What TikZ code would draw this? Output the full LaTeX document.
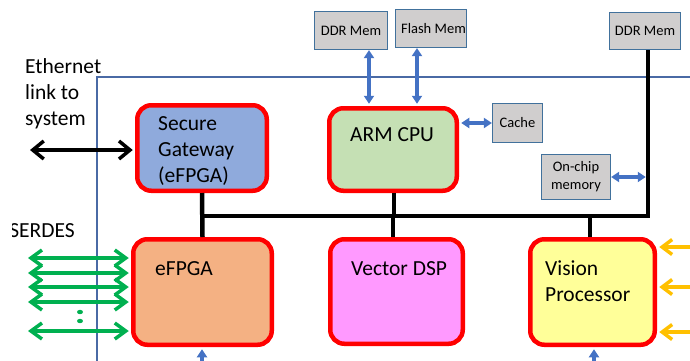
\documentclass[tikz,border=0pt]{standalone}
\usepackage{fontspec}
\setmainfont{Carlito}
\usetikzlibrary{arrows.meta,calc}
\definecolor{boxred}{HTML}{FF0000}
\definecolor{sgfill}{HTML}{8FAADC}
\definecolor{armfill}{HTML}{C5E0B4}
\definecolor{effill}{HTML}{F4B183}
\definecolor{dspfill}{HTML}{FF99FF}
\definecolor{visfill}{HTML}{FFFF99}
\definecolor{memgray}{HTML}{D0CECE}
\definecolor{memborder}{HTML}{41719C}
\definecolor{chipline}{HTML}{4A6AA5}
\definecolor{arrblue}{HTML}{4472C4}
\definecolor{arrgreen}{HTML}{00B050}
\definecolor{arrorange}{HTML}{FFC000}
\begin{document}
\begin{tikzpicture}[x=1pt,y=-1pt,
  redbox/.style={draw=boxred, line width=4.5pt, rounded corners=14pt, inner sep=0pt},
  membox/.style={draw=memborder, fill=memgray, line width=1.2pt, inner sep=0pt,
    font=\fontsize{14.5}{18}\selectfont, align=center},
  bigtxt/.style={font=\fontsize{21.5}{26}\selectfont, inner sep=0pt, align=left, anchor=base west},
  bus/.style={line width=4.5pt, black, line join=miter},
  barrow/.style={line width=3.3pt, draw=arrblue,
    {Triangle[length=8pt,width=10pt]}-{Triangle[length=8pt,width=10pt]}},
  uparrow/.style={line width=3.3pt, draw=arrblue, -{Triangle[length=8pt,width=10pt]}},
  karrow/.style={line width=3.5pt, draw=black,
    {Straight Barb[length=11pt,width=18pt]}-{Straight Barb[length=11pt,width=18pt]}},
  garrow/.style={line width=3.5pt, draw=arrgreen,
    {Straight Barb[length=11pt,width=16pt]}-{Straight Barb[length=11pt,width=16pt]}},
  oarrow/.style={line width=3.5pt, draw=arrorange, -{Straight Barb[length=10pt,width=15pt]}}
]
\useasboundingbox (0,0) rectangle (690,360);

% chip outline
\draw[chipline, line width=1.2pt] (97,380) -- (97,77) -- (710,77);

% main blocks
\node[redbox, fill=sgfill, minimum width=129.5pt, minimum height=85.5pt] (sg) at (202,148) {};
\node[redbox, fill=armfill, minimum width=127.5pt, minimum height=82.5pt] (arm) at (393,149.5) {};
\node[redbox, fill=effill, minimum width=138.5pt, minimum height=105.5pt] (efpga) at (202.5,292) {};
\node[redbox, fill=dspfill, minimum width=132.5pt, minimum height=104.5pt] (dsp) at (396.5,291.5) {};
\node[redbox, fill=visfill, minimum width=124.5pt, minimum height=105.5pt] (vision) at (592.5,292) {};

% memory boxes
\node[membox, minimum width=73pt, minimum height=38pt] (ddr1) at (351,30.5) {DDR Mem};
\node[membox, minimum width=71pt, minimum height=38pt] (flash) at (431,28.5) {\hspace*{5pt}Flash Mem};
\node[membox, minimum width=71pt, minimum height=37pt] (ddr2) at (645,31) {DDR Mem};
\node[membox, minimum width=50pt, minimum height=39pt] (cache) at (517.5,123) {Cache};
\node[membox, minimum width=69pt, minimum height=45pt] (onchip) at (576,177) {On-chip\\memory};

% bus
\coordinate (busL) at (202,216);
\coordinate (busR) at (648,216);
\draw[bus] (sg.south) -- (efpga.north);
\draw[bus] (busL) -- (busR) -- (busR |- ddr2.south);
\draw[bus] ([xshift=1pt]arm.south) -- ([xshift=1pt]arm.south |- busL);
\draw[bus] (dsp.north -| arm.south) -- (arm.south |- busL);
\draw[bus] ([xshift=-2.5pt]vision.north) -- ([xshift=-2.5pt]vision.north |- busL);

% blue arrows
\draw[barrow, shorten >=2.25pt] ([xshift=18pt]ddr1.south) -- ([xshift=18pt]ddr1.south |- arm.north);
\draw[barrow, shorten >=2.25pt] ([xshift=-14pt]flash.south) -- ([xshift=-14pt]flash.south |- arm.north);
\draw[barrow, shorten <=2.25pt] (arm.east |- cache.west) -- (cache.west);
\draw[barrow, shorten >=2.25pt] (onchip.east) -- (onchip.east -| busR);
\coordinate (bin1) at (202,364);
\coordinate (bin2) at (594,364);
\draw[uparrow, shorten >=2.25pt] (bin1) -- (bin1 |- efpga.south);
\draw[uparrow, shorten >=2.25pt] (bin2) -- (bin2 |- vision.south);

% ethernet
\coordinate (ethL) at (30,150);
\draw[karrow, shorten >=2.25pt] (ethL) -- (sg.west |- ethL);

% SERDES lanes
\foreach \i/\y in {1/258,2/273,3/287,4/302,5/331}{
  \coordinate (g\i) at (28,\y);
  \draw[garrow, shorten >=2.25pt] (g\i) -- (efpga.west |- g\i);
}
\fill[arrgreen] (80,312) ellipse (3pt and 2.2pt);
\fill[arrgreen] (80,321) ellipse (3pt and 2.2pt);

% sensor inputs
\foreach \i/\y in {1/247,2/287,3/332}{
  \coordinate (o\i) at (696,\y);
  \draw[oarrow, shorten >=2.25pt] (o\i) -- (vision.east |- o\i);
}

% texts (multi-line: base = last line)
\node[bigtxt] (sgT) at (158,182.5) {Secure\\Gateway\\(eFPGA)};
\node[bigtxt] (armT) at (350,141.5) {ARM CPU};
\node[bigtxt] (efT) at (155,275) {eFPGA};
\node[bigtxt] (dspT) at (351,275) {Vector DSP};
\node[bigtxt] (visT) at (545,301) {Vision\\Processor};
\node[bigtxt] (ethT) at (25,125) {Ethernet\\link to\\system};
\begin{scope}
  \clip (12,200) rectangle (120,250);
  \node[bigtxt, anchor=base east] (serT) at (75,237) {SERDES};
\end{scope}
\end{tikzpicture}
\end{document}
